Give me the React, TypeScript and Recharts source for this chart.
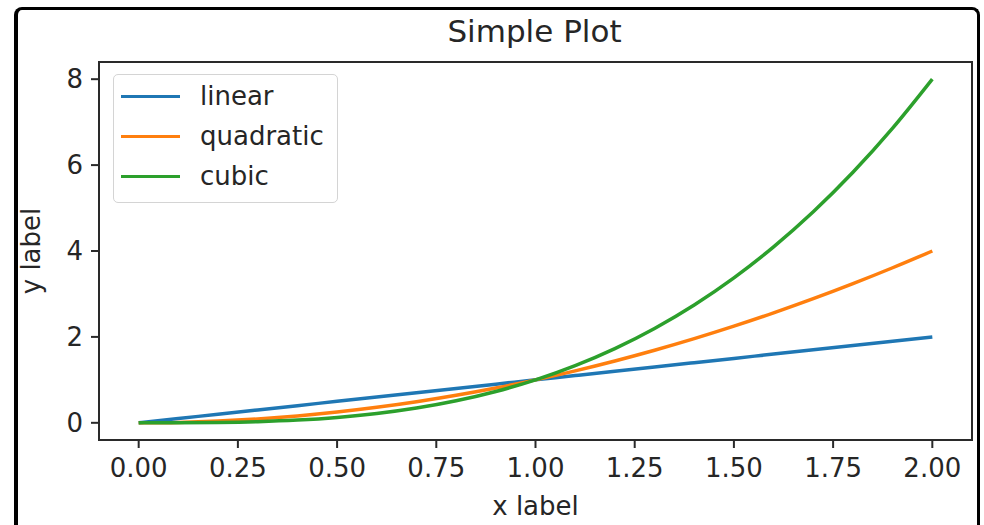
import React from 'react';
import { LineChart, Line, XAxis, YAxis, ReferenceArea, Label } from 'recharts';

const xValues = [0, 0.1, 0.2, 0.3, 0.4, 0.5, 0.6, 0.7, 0.8, 0.9, 1.0, 1.1, 1.2, 1.3, 1.4, 1.5, 1.6, 1.7, 1.8, 1.9, 2.0];
const linearValues = [0, 0.1, 0.2, 0.3, 0.4, 0.5, 0.6, 0.7, 0.8, 0.9, 1.0, 1.1, 1.2, 1.3, 1.4, 1.5, 1.6, 1.7, 1.8, 1.9, 2.0];
const quadraticValues = [0, 0.01, 0.04, 0.09, 0.16, 0.25, 0.36, 0.49, 0.64, 0.81, 1.0, 1.21, 1.44, 1.69, 1.96, 2.25, 2.56, 2.89, 3.24, 3.61, 4.0];
const cubicValues = [0, 0.001, 0.008, 0.027, 0.064, 0.125, 0.216, 0.343, 0.512, 0.729, 1.0, 1.331, 1.728, 2.197, 2.744, 3.375, 4.096, 4.913, 5.832, 6.859, 8.0];

const xTicks = [0, 0.25, 0.5, 0.75, 1.0, 1.25, 1.5, 1.75, 2.0];
const yTicks = [0, 2, 4, 6, 8];
const seriesNames = ['linear', 'quadratic', 'cubic'];
const seriesColors = ['#1f77b4', '#ff7f0e', '#2ca02c'];

const data = xValues.map((x, i) => ({
  x,
  linear: linearValues[i],
  quadratic: quadraticValues[i],
  cubic: cubicValues[i],
}));

const FONT = 'DejaVu Sans';
const TEXT = '#262626';
const AXIS = '#2a2a2a';

const YLabel = (props: any) => {
  const vb = props.viewBox || {};
  const cy = vb.y + vb.height / 2;
  const x = 40;
  return (
    <text x={x} y={cy} transform={`rotate(-90, ${x}, ${cy})`} textAnchor="middle" fontSize={26} fill={TEXT} fontFamily={FONT}>
      y label
    </text>
  );
};

export default function App() {
  return (
    <div style={{ position: 'absolute', left: 0, top: 0, width: 984, height: 525, overflow: 'hidden', background: '#fff', fontFamily: FONT }}>
      <div style={{ position: 'absolute', left: 14, top: 7, width: 966, height: 620, boxSizing: 'border-box', borderTop: '3px solid #000', borderLeft: '4px solid #000', borderRight: '3px solid #000', borderRadius: 8 }} />
      <div style={{ position: 'absolute', left: 98, width: 873, top: 12, textAlign: 'center', fontSize: 31, color: TEXT, lineHeight: '38px' }}>
        Simple Plot
      </div>
      <div style={{ position: 'absolute', left: 0, top: 0 }}>
        <LineChart width={984} height={525} data={data} margin={{ top: 62, right: 12, bottom: 0, left: 0 }}>
          <XAxis
            dataKey="x"
            type="number"
            domain={[-0.1, 2.1]}
            ticks={xTicks}
            allowDataOverflow
            tickFormatter={(v: number) => v.toFixed(2)}
            height={85}
            tickSize={8}
            tickMargin={11}
            stroke={AXIS}
            strokeWidth={2}
            tick={{ fontSize: 26, fill: TEXT, fontFamily: FONT }}
          >
            <Label value="x label" position="insideBottom" offset={10} style={{ fontSize: 26, fill: TEXT, fontFamily: FONT }} />
          </XAxis>
          <YAxis
            type="number"
            domain={[-0.4, 8.4]}
            ticks={yTicks}
            allowDataOverflow
            width={99}
            tickSize={8}
            tickMargin={8}
            stroke={AXIS}
            strokeWidth={2}
            tick={{ fontSize: 26, fill: TEXT, fontFamily: FONT }}
          >
            <Label content={<YLabel />} />
          </YAxis>
          <ReferenceArea x1={-0.1} x2={2.1} y1={-0.4} y2={8.4} fill="none" fillOpacity={0} stroke={AXIS} strokeWidth={2} ifOverflow="visible" />
          {seriesNames.map((name, i) => (
            <Line key={name} dataKey={name} type="monotone" stroke={seriesColors[i]} strokeWidth={3.5} dot={false} isAnimationActive={false} />
          ))}
        </LineChart>
      </div>
      <div style={{ position: 'absolute', left: 113, top: 74, width: 225, height: 129, boxSizing: 'border-box', border: '1.5px solid #d4d4d4', borderRadius: 5, background: 'rgba(255,255,255,0.8)', paddingTop: 1 }}>
        {seriesNames.map((name, i) => (
          <div key={name} style={{ display: 'flex', alignItems: 'center', height: 40 }}>
            <div style={{ marginLeft: 7, width: 59, height: 3, background: seriesColors[i] }} />
            <div style={{ marginLeft: 20, fontSize: 26, color: TEXT, lineHeight: '30px' }}>{name}</div>
          </div>
        ))}
      </div>
    </div>
  );
}
